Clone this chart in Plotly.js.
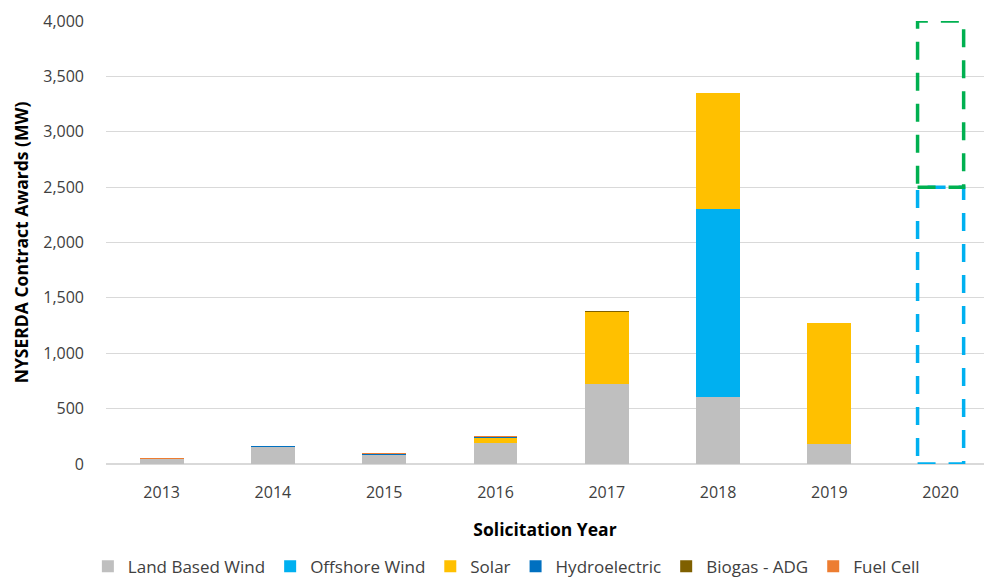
<!DOCTYPE html>
<html>
<head>
<meta charset="utf-8">
<script src="https://cdn.plot.ly/plotly-3.0.1.min.js"></script>
<style>html,body{margin:0;padding:0;background:#fff;}#chart{width:984px;height:578px;}</style>
</head>
<body>
<div id="chart"></div>
<script>
const years = ["2013", "2014", "2015", "2016", "2017", "2018", "2019", "2020"];
const landBasedWind = [42, 150, 78, 190, 726, 605, 178, 0];
const offshoreWind  = [0, 0, 0, 0, 0, 1696, 0, 0];
const solar         = [0, 0, 0, 48, 642, 1050, 1092, 0];
const hydroelectric = [0, 9, 10, 8, 6, 0, 0, 0];
const biogasADG     = [0, 0, 0, 0, 6, 0, 0, 0];
const fuelCell      = [9, 0, 8, 8, 0, 0, 0, 0];
// 2020 target boxes (MW): offshore-wind range and additional range
const target2020Year = "2020";
const target2020Lower = [0, 2500];
const target2020Upper = [2500, 4000];

const series = [
  {name: "Land Based Wind", y: landBasedWind, color: "#bfbfbf"},
  {name: "Offshore Wind", y: offshoreWind, color: "#00b0f0"},
  {name: "Solar", y: solar, color: "#ffc000"},
  {name: "Hydroelectric", y: hydroelectric, color: "#0070c0"},
  {name: "Biogas - ADG", y: biogasADG, color: "#7f6000"},
  {name: "Fuel Cell", y: fuelCell, color: "#ed7d31"}
];

const traces = series.map(s => ({
  type: "bar", x: years, y: s.y, name: s.name,
  marker: {color: s.color, line: {width: 0}},
  hoverinfo: "skip"
}));

const xi = years.indexOf(target2020Year);
const halfW = 0.207;
const shapes = [
  {type: "rect", xref: "x", yref: "y", x0: xi - halfW, x1: xi + halfW,
   y0: target2020Lower[0], y1: target2020Lower[1],
   line: {color: "#00b0f0", width: 3.5, dash: "18px,13px"}, fillcolor: "rgba(0,0,0,0)"},
  {type: "rect", xref: "x", yref: "y", x0: xi - halfW, x1: xi + halfW,
   y0: target2020Upper[0], y1: target2020Upper[1],
   line: {color: "#00b050", width: 3.5, dash: "18px,13px"}, fillcolor: "rgba(0,0,0,0)"}
];

const font = "'Open Sans', 'Noto Sans', sans-serif";
const layout = {
  width: 984, height: 578,
  margin: {l: 106, r: 0, t: 21, b: 114, pad: 0, autoexpand: false},
  paper_bgcolor: "#fff", plot_bgcolor: "#fff",
  barmode: "stack", bargap: 0.605,
  font: {family: font, size: 16, color: "#404040"},
  showlegend: true,
  legend: {orientation: "h", x: 0.456, xanchor: "center", y: -0.232, yanchor: "middle",
           font: {family: font, size: 17, color: "#404040"}, itemclick: false, traceorder: "normal"},
  xaxis: {
    type: "category", range: [-0.5, 7.39], fixedrange: true, automargin: false,
    showgrid: false, showline: false, zeroline: false, ticks: "",
    tickfont: {family: font, size: 16, color: "#404040"},
    ticklabelstandoff: 17,
    title: {text: "<b>Solicitation Year</b>", font: {family: font, size: 17.5, color: "#000"}, standoff: 21}
  },
  yaxis: {
    range: [0, 4000], dtick: 500, tickformat: ",", fixedrange: true, automargin: false,
    showgrid: true, gridcolor: "#d9d9d9", gridwidth: 1,
    zeroline: true, zerolinecolor: "#d9d9d9", zerolinewidth: 2,
    showline: false, ticks: "",
    tickfont: {family: font, size: 16, color: "#404040"},
    ticklabelstandoff: 21,
    title: {text: "<b>NYSERDA Contract Awards (MW)</b>", font: {family: font, size: 17.5, color: "#000"}, standoff: 10}
  },
  shapes: shapes
};

Plotly.newPlot("chart", traces, layout, {displayModeBar: false, staticPlot: true});
</script>
</body>
</html>
